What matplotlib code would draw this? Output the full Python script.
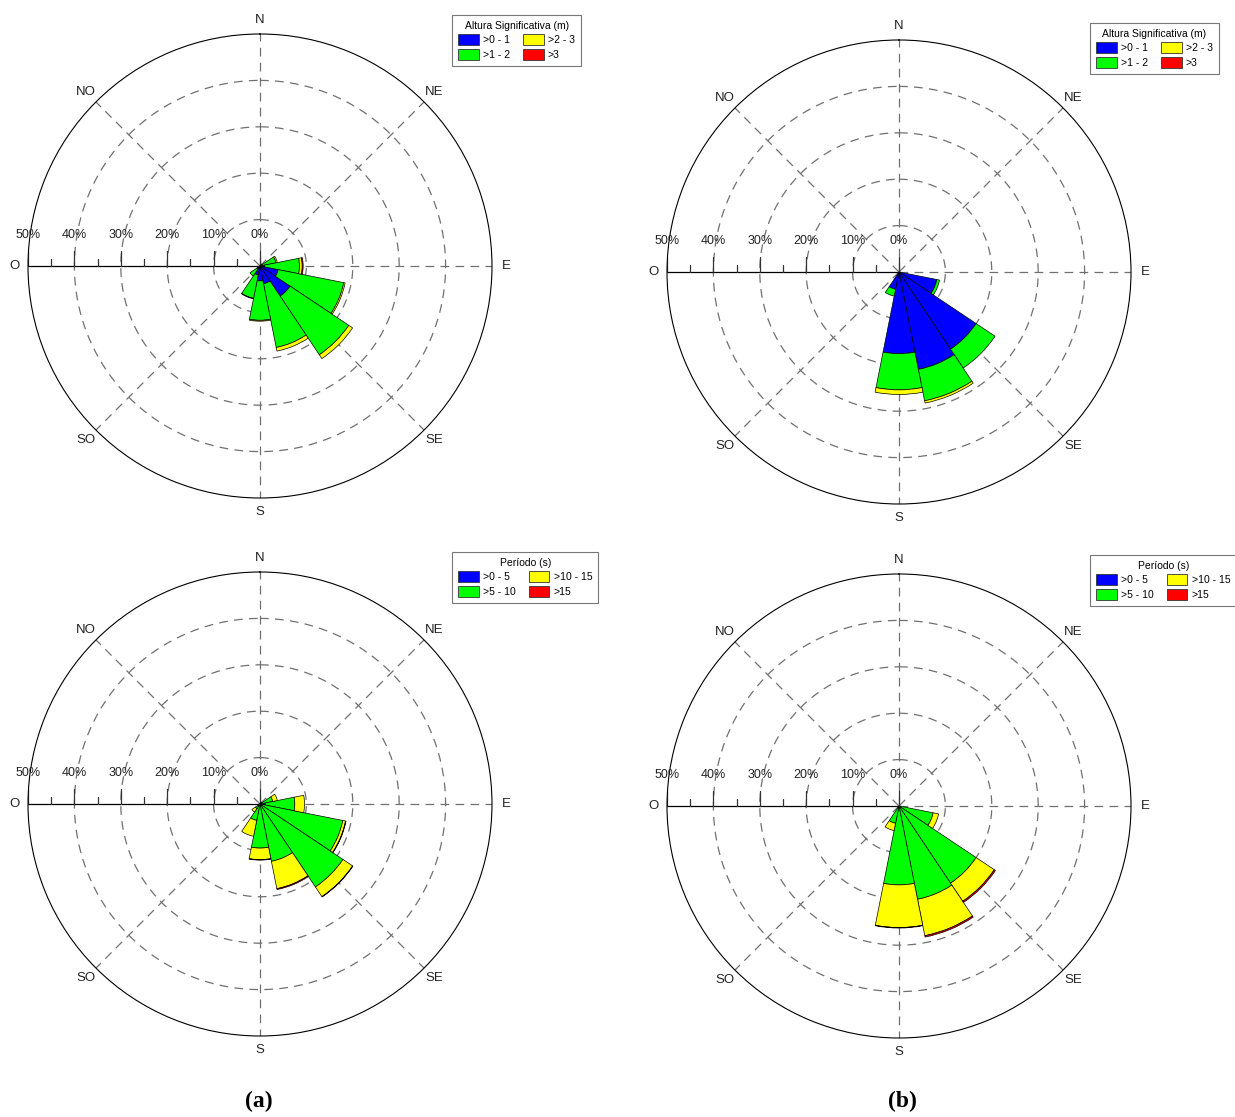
import numpy as np
import matplotlib
matplotlib.use("Agg")
import matplotlib.pyplot as plt
from matplotlib.patches import Patch
from matplotlib.markers import TICKUP

plt.rcParams['font.family'] = ['Liberation Sans', 'DejaVu Sans']

# 16 direction sectors, clockwise from N
sectors = ['N', 'NNE', 'NE', 'ENE', 'E', 'ESE', 'SE', 'SSE',
           'S', 'SSW', 'SW', 'WSW', 'W', 'WNW', 'NW', 'NNW']
compass = ['N', 'NE', 'E', 'SE', 'S', 'SO', 'O', 'NO']

colors = ['#0000ff', '#00ff00', '#ffff00', '#ff0000']

hs_title = 'Altura Significativa (m)'
hs_labels = ['>0 - 1', '>1 - 2', '>2 - 3', '>3']
tp_title = 'Período (s)'
tp_labels = ['>0 - 5', '>5 - 10', '>10 - 15', '>15']

# frequency (%) per sector for each class
hs_a_c1 = [0, 0, 0.2, 0.5, 1.0, 4.0, 7.8, 3.9, 3.2, 2.0, 0.8, 0, 0, 0, 0, 0]
hs_a_c2 = [0, 0, 0.3, 3.0, 7.5, 14.4, 15.2, 14.0, 8.5, 5.1, 1.8, 0, 0, 0, 0, 0]
hs_a_c3 = [0, 0, 0, 0.3, 0.6, 0.3, 1.0, 0.8, 0.2, 0.1, 0, 0, 0, 0, 0, 0]
hs_a_c4 = [0, 0, 0, 0, 0.2, 0, 0, 0, 0, 0, 0, 0, 0, 0, 0, 0]

hs_b_c1 = [0, 0, 0, 0, 0, 8.3, 20.0, 21.4, 17.6, 3.8, 0, 0, 0, 0, 0, 0]
hs_b_c2 = [0, 0, 0, 0, 0, 0.6, 4.9, 6.9, 7.8, 1.5, 0, 0, 0, 0, 0, 0]
hs_b_c3 = [0, 0, 0, 0, 0, 0, 0, 0.5, 1.0, 0, 0, 0, 0, 0, 0, 0]
hs_b_c4 = [0, 0, 0, 0, 0, 0, 0, 0, 0, 0, 0, 0, 0, 0, 0, 0]

tp_a_c1 = [0, 0, 0, 0, 1.2, 0.1, 0, 0, 0, 0, 0, 0, 0, 0, 0, 0]
tp_a_c2 = [0, 0, 0.3, 2.8, 6.3, 18.1, 21.5, 12.6, 9.5, 3.6, 1.2, 0, 0, 0, 0, 0]
tp_a_c3 = [0, 0, 0.2, 1.0, 2.1, 0.6, 2.5, 6.0, 2.5, 3.5, 0.9, 0, 0, 0, 0, 0]
tp_a_c4 = [0, 0, 0, 0, 0, 0.1, 0.1, 0.2, 0.1, 0, 0, 0, 0, 0, 0, 0]

tp_b_c1 = [0, 0, 0, 0, 0, 0, 0, 0, 0, 0, 0, 0, 0, 0, 0, 0]
tp_b_c2 = [0, 0, 0, 0, 0, 7.5, 20.0, 20.5, 17.0, 3.8, 0, 0, 0, 0, 0, 0]
tp_b_c3 = [0, 0, 0, 0, 0, 1.2, 4.7, 8.0, 9.2, 1.6, 0, 0, 0, 0, 0, 0]
tp_b_c4 = [0, 0, 0, 0, 0, 0, 0.3, 0.3, 0.1, 0, 0, 0, 0, 0, 0, 0]

W, H = 1235, 1117
fig = plt.figure(figsize=(W / 100, H / 100), dpi=100)

R_PX = 232  # pixel radius of the 50% circle


def rose(cx, cy, classes):
    ax = fig.add_axes([(cx - R_PX) / W, 1 - (cy + R_PX) / H, 2 * R_PX / W, 2 * R_PX / H],
                      projection='polar')
    ax.set_theta_zero_location('N')
    ax.set_theta_direction(-1)
    ax.set_ylim(0, 50)
    ax.set_xticks([])
    ax.set_yticks([])
    ax.grid(False)
    ax.spines['polar'].set_color('black')
    ax.spines['polar'].set_linewidth(0.8)

    t = np.linspace(0, 2 * np.pi, 400)
    for r in [10, 20, 30, 40]:
        ax.plot(t, np.full_like(t, r), ls=(0, (7, 5)), color='#707070', lw=0.9, zorder=1)
    for d in range(8):
        if d == 6:
            continue
        a = np.deg2rad(d * 45)
        ax.plot([a, a], [0, 50], ls=(0, (7, 5)), color='#707070', lw=0.9, zorder=1)

    # west axis with percent scale
    w = np.deg2rad(270)
    ax.plot([w, w], [0, 50], color='black', lw=0.9, zorder=1)
    ax.plot([w] * 6, [0, 10, 20, 30, 40, 50], ls='none', marker=TICKUP,
            ms=11, mew=0.9, color='#333333', zorder=1)
    ax.plot([w] * 5, [5, 15, 25, 35, 45], ls='none', marker=TICKUP,
            ms=5, mew=0.9, color='#333333', zorder=1)
    for r in range(0, 60, 10):
        ax.annotate(f'{r}%', xy=(w, r), xytext=(0, 22), textcoords='offset points',
                    ha='center', va='center', fontsize=9, color='#222222')

    for i, lab in enumerate(compass):
        ax.text(np.deg2rad(i * 45), 53, lab, ha='center', va='center',
                fontsize=9.5, color='#222222', clip_on=False)

    theta = np.deg2rad(np.arange(16) * 22.5)
    width = np.deg2rad(22.5)
    bottom = np.zeros(16)
    for vals, col in zip(classes, colors):
        vals = np.array(vals, dtype=float)
        m = vals > 0
        ax.bar(theta[m], vals[m], width=width, bottom=bottom[m], color=col,
               edgecolor='black', linewidth=0.5, zorder=3)
        bottom += vals
    return ax


rose(260, 266, [hs_a_c1, hs_a_c2, hs_a_c3, hs_a_c4])
rose(899, 272, [hs_b_c1, hs_b_c2, hs_b_c3, hs_b_c4])
rose(260, 804, [tp_a_c1, tp_a_c2, tp_a_c3, tp_a_c4])
rose(899, 806, [tp_b_c1, tp_b_c2, tp_b_c3, tp_b_c4])


def add_legend(x, y, title, labels):
    handles = [Patch(facecolor=c, edgecolor='#333333', linewidth=0.6) for c in colors]
    leg = fig.legend(handles, labels, title=title, ncol=2, loc='upper left',
                     bbox_to_anchor=(x / W, 1 - y / H), fontsize=7.5, title_fontsize=7.5,
                     frameon=True, fancybox=False, borderaxespad=0, borderpad=0.6,
                     handlelength=2.0, handleheight=1.25, handletextpad=0.4,
                     columnspacing=1.2, labelspacing=0.3)
    leg.get_frame().set_edgecolor('#555555')
    leg.get_frame().set_linewidth(0.8)
    return leg


add_legend(452, 15, hs_title, hs_labels)
add_legend(1090, 23, hs_title, hs_labels)
add_legend(452, 552, tp_title, tp_labels)
add_legend(1090, 555, tp_title, tp_labels)

fig.text(259 / W, 1 - 1101 / H, '(a)', ha='center', va='center', fontsize=17,
         fontweight='bold', family='Liberation Serif')
fig.text(902 / W, 1 - 1101 / H, '(b)', ha='center', va='center', fontsize=17,
         fontweight='bold', family='Liberation Serif')

fig.savefig('out.png', dpi=100)
